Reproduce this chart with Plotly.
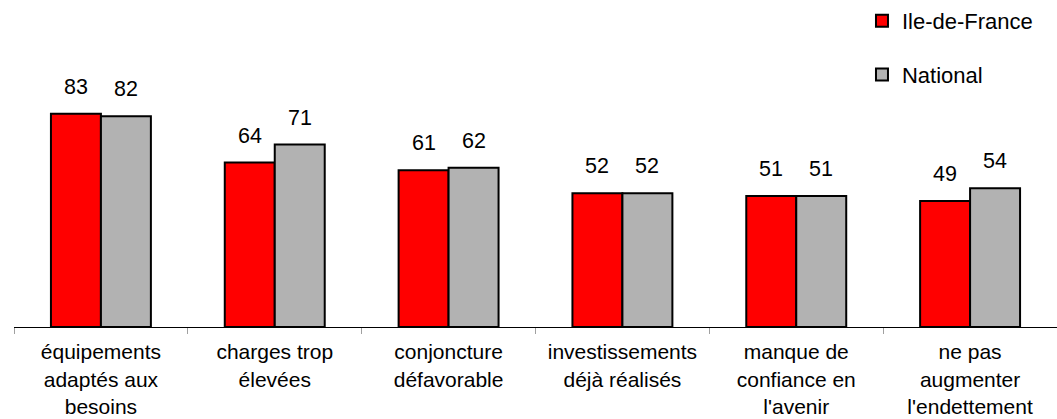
import plotly.graph_objects as go

categories = [
    "équipements<br>adaptés aux<br>besoins",
    "charges trop<br>élevées",
    "conjoncture<br>défavorable",
    "investissements<br>déjà réalisés",
    "manque de<br>confiance en<br>l'avenir",
    "ne pas<br>augmenter<br>l'endettement",
]
idf_values = [83, 64, 61, 52, 51, 49]
nat_values = [82, 71, 62, 52, 51, 54]
series_names = ["Ile-de-France", "National"]
series_colors = ["#FF0000", "#B2B2B2"]

FONT = "Liberation Sans, Arial, sans-serif"

fig = go.Figure()
for name, vals, col in zip(series_names, [idf_values, nat_values], series_colors):
    fig.add_trace(go.Bar(
        x=categories, y=vals, name=name, legendgroup=name,
        marker=dict(color=col, line=dict(color="black", width=2)),
        hoverinfo="skip",
    ))

annotations = []
for vals, shift in [(idf_values, -25), (nat_values, 25)]:
    for c, v in zip(categories, vals):
        annotations.append(dict(
            x=c, y=v, xref="x", yref="y", text=str(v), showarrow=False,
            xshift=shift, yshift=13, yanchor="bottom",
            font=dict(family=FONT, size=21.5, color="black"),
        ))

fig.update_layout(
    width=1057, height=419,
    margin=dict(l=14, r=0, t=70, b=92, autoexpand=False),
    paper_bgcolor="white", plot_bgcolor="white",
    barmode="group", bargap=0.425, bargroupgap=0,
    font=dict(family=FONT, size=21.5, color="black"),
    showlegend=True,
    legend=dict(
        xref="container", yref="container", x=0.8155, y=1,
        xanchor="left", yanchor="top",
        font=dict(family=FONT, size=22, color="black"),
        tracegroupgap=22, bgcolor="rgba(0,0,0,0)",
    ),
    annotations=annotations,
    xaxis=dict(
        showline=True, linecolor="black", linewidth=1,
        ticks="outside", tickson="boundaries", ticklen=6, tickcolor="#A0A0A0",
        tickfont=dict(family=FONT, size=21, color="black"), tickangle=0,
        ticklabelstandoff=6,
        showgrid=False, zeroline=False, fixedrange=True, automargin=False,
    ),
    yaxis=dict(
        range=[0, 100], visible=False, showgrid=False, zeroline=False,
    ),
)

fig.write_html(
    "out.html",
    config={"displayModeBar": False, "staticPlot": True},
    post_script="document.body.style.margin='0';document.body.style.overflow='hidden';",
)
